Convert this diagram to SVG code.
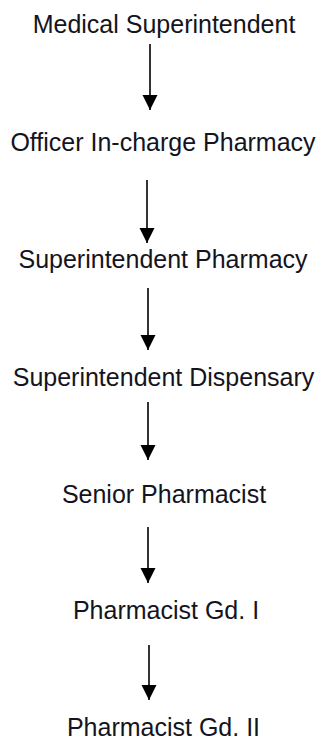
<svg xmlns="http://www.w3.org/2000/svg" width="320" height="740" viewBox="0 0 320 740">
<defs>
<style>
.lbl{font-family:"Liberation Sans",Arial,sans-serif;font-size:25px;fill:#141420;text-anchor:middle}
.con{stroke:#000;stroke-width:1.6;fill:none}
</style>
<marker id="ah" markerUnits="userSpaceOnUse" markerWidth="16" markerHeight="18" refX="15" refY="7.5" orient="auto">
<path d="M0,0 L15,7.5 L0,15 Z" fill="#000"/>
</marker>
</defs>
<rect width="320" height="740" fill="#fff"/>
<g id="n1"><text class="lbl" x="164" y="33">Medical Superintendent</text></g>
<g id="n2"><text class="lbl" x="163" y="151">Officer In-charge Pharmacy</text></g>
<g id="n3"><text class="lbl" x="163" y="268">Superintendent Pharmacy</text></g>
<g id="n4"><text class="lbl" x="163.5" y="386">Superintendent Dispensary</text></g>
<g id="n5"><text class="lbl" x="164" y="503">Senior Pharmacist</text></g>
<g id="n6"><text class="lbl" x="166" y="619">Pharmacist Gd. I</text></g>
<g id="n7"><text class="lbl" x="163.5" y="736">Pharmacist Gd. II</text></g>
<g id="connectors">
<line class="con" x1="150" y1="44" x2="150" y2="110" marker-end="url(#ah)"/>
<line class="con" x1="147" y1="180" x2="147" y2="243" marker-end="url(#ah)"/>
<line class="con" x1="148" y1="288" x2="148" y2="350" marker-end="url(#ah)"/>
<line class="con" x1="148" y1="402" x2="148" y2="460" marker-end="url(#ah)"/>
<line class="con" x1="148" y1="527" x2="148" y2="583" marker-end="url(#ah)"/>
<line class="con" x1="149" y1="645" x2="149" y2="700" marker-end="url(#ah)"/>
</g>
</svg>
